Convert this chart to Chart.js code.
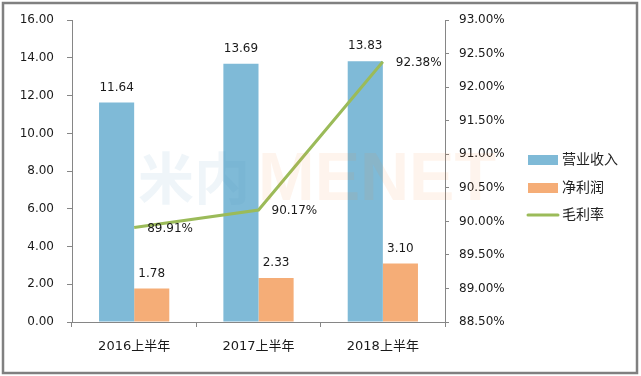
<!DOCTYPE html>
<html lang="zh-CN">
  <head>
    <meta charset="UTF-8" />
    <title>营业收入 / 净利润 / 毛利率</title>
    <script src="https://cdn.jsdelivr.net/npm/chart.js@4.4.1/dist/chart.umd.min.js"></script>
    <style>
      html, body { margin: 0; padding: 0; background: #fff; }
      #wrap { position: relative; width: 641px; height: 376px; }
    </style>
  </head>
  <body>
    <div id="wrap"><canvas id="chart" width="641" height="376"></canvas></div>
    <script>
      const categories = ["2016上半年", "2017上半年", "2018上半年"];
      const revenue = [11.64, 13.69, 13.83];
      const netProfit = [1.78, 2.33, 3.1];
      const grossMargin = [89.91, 90.17, 92.38];
      const seriesNames = ["营业收入", "净利润", "毛利率"];

      const FONT = '"DejaVu Sans", "Noto Sans CJK SC", sans-serif';
      const colors = { blue: "#7fbad7", orange: "#f5ad77", green: "#9bbb59", axis: "#868686", text: "#1a1a1a" };

      // frame, watermark, value labels, legend
      const decor = {
        id: "decor",
        beforeDraw(chart) {
          const c = chart.ctx;
          c.save();
          c.fillStyle = "#fff";
          c.fillRect(0, 0, chart.width, chart.height);
          c.restore();
        },
        afterDatasetsDraw(chart) {
          const c = chart.ctx;
          c.save();
          c.globalAlpha = 0.09;
          c.textBaseline = "alphabetic";
          c.font = 'bold 56px "Noto Sans CJK SC", sans-serif';
          c.fillStyle = "#4a8fc0";
          c.fillText("米内", 138, 199);
          c.font = 'bold 68px "Liberation Sans", sans-serif';
          c.fillStyle = "#f08a3c";
          c.fillText("MENET", 258, 200);
          c.restore();

          c.save();
          c.font = "12px " + FONT;
          c.fillStyle = colors.text;
          c.textBaseline = "middle";
          c.textAlign = "center";
          [0, 1].forEach((di) => {
            chart.getDatasetMeta(di).data.forEach((bar, i) => {
              const v = chart.data.datasets[di].data[i];
              c.fillText(v.toFixed(2), bar.x, bar.y - 15);
            });
          });
          c.textAlign = "left";
          chart.getDatasetMeta(2).data.forEach((pt, i) => {
            c.fillText(grossMargin[i].toFixed(2) + "%", pt.x + 13, pt.y + 1);
          });
          c.restore();

          // legend
          c.save();
          const lx = 528, rows = [160, 188, 215];
          c.font = "14px " + FONT;
          c.textBaseline = "middle";
          c.fillStyle = colors.blue;
          c.fillRect(lx, rows[0] - 5, 30, 10);
          c.fillStyle = colors.orange;
          c.fillRect(lx, rows[1] - 5, 30, 10);
          c.strokeStyle = colors.green;
          c.lineWidth = 3;
          c.lineCap = "round";
          c.beginPath();
          c.moveTo(lx, rows[2]);
          c.lineTo(lx + 30, rows[2]);
          c.stroke();
          c.fillStyle = "#222";
          seriesNames.forEach((n, i) => c.fillText(n, lx + 34, rows[i]));
          c.restore();
        },
        afterDraw(chart) {
          const c = chart.ctx;
          c.save();
          c.strokeStyle = "#808080";
          c.lineWidth = 2.5;
          c.strokeRect(3, 3, 634, 370);
          c.restore();
        },
      };

      new Chart(document.getElementById("chart"), {
        data: {
          labels: categories,
          datasets: [
            { type: "bar", label: seriesNames[0], data: revenue, backgroundColor: colors.blue, yAxisID: "y", order: 1 },
            { type: "bar", label: seriesNames[1], data: netProfit, backgroundColor: colors.orange, yAxisID: "y", order: 1 },
            {
              type: "line",
              label: seriesNames[2],
              data: grossMargin,
              borderColor: colors.green,
              borderWidth: 3,
              pointRadius: 0,
              tension: 0,
              yAxisID: "y1",
              order: 0,
            },
          ],
        },
        options: {
          responsive: false,
          animation: false,
          devicePixelRatio: 1,
          layout: { padding: { top: 19, left: 0, right: 0, bottom: 0 } },
          datasets: { bar: { barPercentage: 1, categoryPercentage: 0.565 } },
          plugins: { legend: { display: false }, tooltip: { enabled: false } },
          scales: {
            x: {
              offset: true,
              grid: { offset: true, drawOnChartArea: false, tickLength: 5, color: colors.axis },
              border: { color: colors.axis },
              ticks: { font: { family: FONT, size: 13 }, color: colors.text, padding: 12 },
              afterFit: (s) => { s.height = 54; },
            },
            y: {
              min: 0,
              max: 16,
              ticks: { stepSize: 2, font: { family: FONT, size: 12 }, color: colors.text, padding: 13, callback: (v) => v.toFixed(2) },
              grid: { drawOnChartArea: false, tickLength: 5, color: colors.axis },
              border: { color: colors.axis },
              afterFit: (s) => { s.width = 72; },
            },
            y1: {
              position: "right",
              min: 88.5,
              max: 93,
              ticks: { stepSize: 0.5, font: { family: FONT, size: 12 }, color: colors.text, padding: 10, callback: (v) => v.toFixed(2) + "%" },
              grid: { drawOnChartArea: false, tickLength: 4, color: colors.axis },
              border: { color: colors.axis },
              afterFit: (s) => { s.width = 196; },
            },
          },
        },
        plugins: [decor],
      });
    </script>
  </body>
</html>
